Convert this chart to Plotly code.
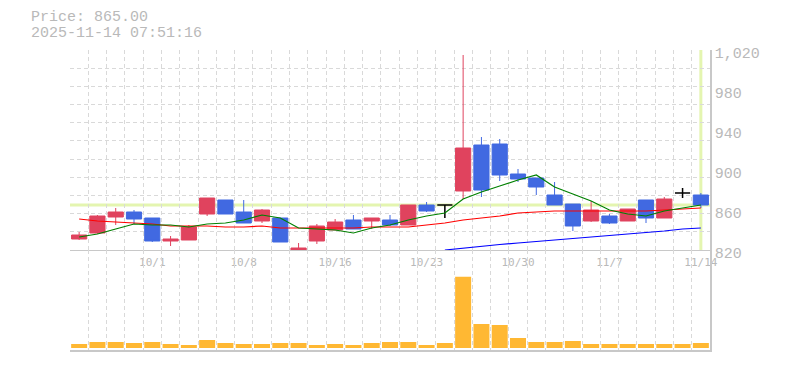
import plotly.graph_objects as go

# ---------------- data ----------------
dates = ["9/25", "9/26", "9/29", "9/30", "10/1", "10/2", "10/3", "10/6", "10/7",
         "10/8", "10/9", "10/10", "10/14", "10/15", "10/16", "10/17", "10/20",
         "10/21", "10/22", "10/23", "10/24", "10/27", "10/28", "10/29", "10/30",
         "10/31", "11/4", "11/5", "11/6", "11/7", "11/10", "11/11", "11/12",
         "11/13", "11/14"]
tick_dates = ["10/1", "10/8", "10/16", "10/23", "10/30", "11/7", "11/14"]

opens = [831, 837, 853, 858, 852, 829, 830, 856, 870, 858, 849, 852, 819, 829,
         840, 850, 849, 850, 845, 865, 865, 879, 925, 926, 896, 892, 875, 866,
         849, 854, 849, 870, 852, 877, 875]
highs = [838, 855, 862, 860, 852, 834, 845, 872, 870, 870, 861, 852, 827, 846,
         851, 855, 852, 855, 865, 868, 865, 1015, 933, 931, 901, 892, 888, 866,
         869, 856, 861, 870, 873, 882, 877]
lows = [830, 836, 845, 846, 828, 824, 830, 854, 856, 847, 847, 828, 818, 826,
        840, 841, 841, 844, 845, 858, 852, 871, 873, 889, 888, 875, 865, 839,
        848, 846, 849, 847, 852, 872, 862]
closes = [835, 854, 858, 851, 829, 831, 843, 872, 856, 847, 860, 828, 822, 844,
          848, 841, 852, 845, 865, 859, 865, 922, 880, 895, 891, 883, 865, 844,
          860, 847, 861, 852, 871, 877, 865]

ma_short = [833, 836, 841, 846, 845, 845, 843, 846, 847, 850, 855, 852, 842, 841,
            840, 837, 842, 845, 850, 854, 857, 871, 878, 884, 890, 895, 883, 876,
            869, 860, 856, 854, 859, 862, 865]
ma_mid = [851, 849, 848, 847, 846, 844, 844, 844, 843, 843, 844, 842, 842, 842,
          842, 842, 843, 843, 843, 845, 847, 850, 852, 854, 857, 858, 859, 859,
          859, 859, 859, 859, 860, 861, 862]
ma_long = [None] * 20 + [820, 822, 823.5, 825.5, 827, 828.5, 830, 831.5, 833,
                         834, 836, 837, 839, 841, 842]

volumes = [40, 60, 60, 50, 60, 40, 30, 80, 50, 40, 40, 50, 50, 30, 40, 30, 50,
           60, 60, 30, 50, 713, 240, 230, 100, 60, 60, 70, 40, 40, 40, 40, 40,
           40, 50]

price_ticks = [820, 860, 900, 940, 980, 1020]
timestamp = "2025-11-14 07:51:16"

# ---------------- styles ----------------
RED = "#E0435E"
BLUE = "#4169E1"
VOL = "#FFB833"
GRID = "#d9d9d9"
AXIS = "#c8c8c8"
TXT = "#b9b9b9"
HILITE = "#E4F5B0"
MONO = "Liberation Mono"

pos = list(range(len(dates)))
body_idx = [i for i in pos if opens[i] != closes[i]]
doji_idx = [i for i in pos if opens[i] == closes[i]]

fig = go.Figure()

for vals, col in ((ma_long, "#0000FF"), (ma_mid, "#FF0000"), (ma_short, "#008000")):
    fig.add_trace(go.Scatter(x=pos, y=vals, mode="lines",
                             line=dict(color=col, width=1.2),
                             xaxis="x", yaxis="y", hoverinfo="skip"))

fig.add_trace(go.Candlestick(
    x=[pos[i] for i in body_idx],
    open=[opens[i] for i in body_idx], high=[highs[i] for i in body_idx],
    low=[lows[i] for i in body_idx], close=[closes[i] for i in body_idx],
    increasing=dict(line=dict(color=RED, width=1), fillcolor=RED),
    decreasing=dict(line=dict(color=BLUE, width=1), fillcolor=BLUE),
    whiskerwidth=0, xaxis="x", yaxis="y"))

fig.add_trace(go.Candlestick(
    x=[pos[i] for i in doji_idx],
    open=[opens[i] for i in doji_idx], high=[highs[i] for i in doji_idx],
    low=[lows[i] for i in doji_idx], close=[closes[i] for i in doji_idx],
    increasing=dict(line=dict(color="black", width=1.5), fillcolor="black"),
    decreasing=dict(line=dict(color="black", width=1.5), fillcolor="black"),
    whiskerwidth=0, xaxis="x", yaxis="y"))

fig.add_trace(go.Bar(x=pos, y=volumes, marker=dict(color=VOL, line=dict(width=0)),
                     width=0.875, xaxis="x2", yaxis="y2", hoverinfo="skip"))

minor_x = dict(tick0=-0.5, dtick=1, showgrid=True, gridcolor=GRID,
               griddash="4px,3px", gridwidth=1)

fig.update_layout(
    width=785, height=370,
    margin=dict(l=70, r=75, t=50, b=20, autoexpand=False),
    paper_bgcolor="white", plot_bgcolor="white",
    showlegend=False, boxgap=0.17, boxgroupgap=0,
    xaxis=dict(domain=[0, 1], anchor="y", range=[-0.5, len(dates) - 0.5],
               tickmode="array", tickvals=[dates.index(d) for d in tick_dates],
               ticktext=tick_dates, showgrid=False, ticks="", zeroline=False,
               tickfont=dict(family="DejaVu Sans Mono", size=11, color=TXT),
               ticklabelstandoff=2, automargin=False,
               showline=True, linecolor=AXIS, linewidth=1,
               rangeslider=dict(visible=False), minor=minor_x),
    yaxis=dict(domain=[1 / 3, 1], anchor="x", side="right", range=[820, 1020],
               tickmode="array", tickvals=price_ticks, tickformat=",d",
               showgrid=False, ticks="", zeroline=False, ticklabelshift=3,
               tickfont=dict(family=MONO, size=15, color=TXT), automargin=False,
               showline=True, linecolor=AXIS, linewidth=1.5,
               minor=dict(tick0=820, dtick=200 / 11, showgrid=True, gridcolor=GRID,
                          griddash="4px,3px", gridwidth=1)),
    xaxis2=dict(domain=[0, 1], anchor="y2", matches="x", showticklabels=False,
                ticks="", showgrid=False, zeroline=False, showline=True,
                automargin=False, rangeslider=dict(visible=False),
                linecolor=AXIS, linewidth=1.5, minor=minor_x),
    yaxis2=dict(domain=[0, 1 / 3], anchor="x2", side="right", range=[-20, 980],
                showticklabels=False, ticks="", showgrid=False, zeroline=False,
                automargin=False,
                showline=True, linecolor=AXIS, linewidth=1.5),
    shapes=[
        dict(type="line", xref="x domain", x0=0, x1=1, yref="y",
             y0=closes[-1], y1=closes[-1], line=dict(color=HILITE, width=3),
             layer="below"),
        dict(type="line", xref="x", x0=pos[-1], x1=pos[-1], yref="y domain",
             y0=0, y1=1, line=dict(color=HILITE, width=3), layer="below"),
    ],
    annotations=[
        dict(text=f"Price: {closes[-1]:.2f}", xref="paper", yref="paper", x=0, y=1,
             xanchor="left", yanchor="middle", xshift=-41, yshift=32.5,
             showarrow=False, font=dict(family=MONO, size=15, color=TXT)),
        dict(text=timestamp, xref="paper", yref="paper", x=0, y=1,
             xanchor="left", yanchor="middle", xshift=-41, yshift=17,
             showarrow=False, font=dict(family=MONO, size=15, color=TXT)),
    ],
)

fig.write_html("out.html")
